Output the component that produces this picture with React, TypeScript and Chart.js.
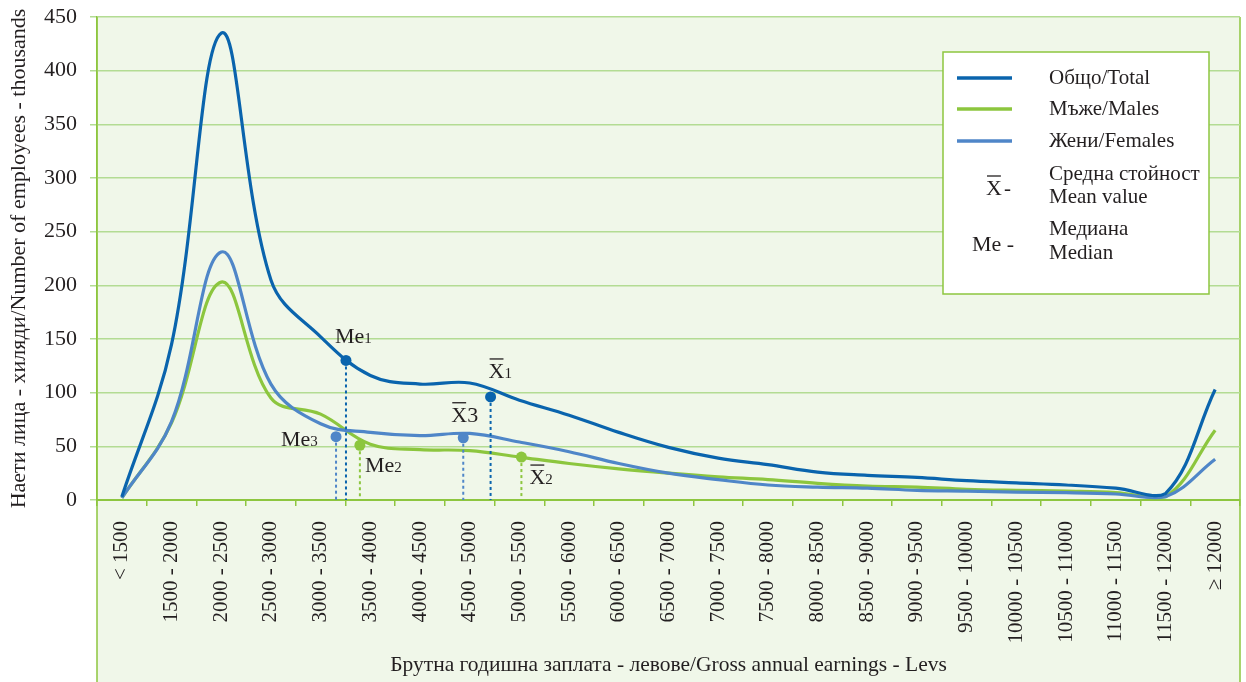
import React, { useEffect, useRef } from 'react';
import { Chart, registerables } from 'chart.js';

Chart.register(...registerables);

const categories = [
  '< 1500', '1500 - 2000', '2000 - 2500', '2500 - 3000', '3000 - 3500', '3500 - 4000',
  '4000 - 4500', '4500 - 5000', '5000 - 5500', '5500 - 6000', '6000 - 6500', '6500 - 7000',
  '7000 - 7500', '7500 - 8000', '8000 - 8500', '8500 - 9000', '9000 - 9500', '9500 - 10000',
  '10000 - 10500', '10500 - 11000', '11000 - 11500', '11500 - 12000', '≥ 12000',
];

const totalValues = [3, 145, 435, 205, 152, 116, 108, 109, 93, 79, 63, 49, 39, 33, 26, 23, 21, 18, 16, 14, 11, 6, 103];
const maleValues = [2, 72, 203, 95, 80, 52, 47, 46, 40, 34, 29, 25, 21.6, 19, 15.5, 13, 12, 10, 9, 8.3, 7, 3, 65];
const femaleValues = [2, 73, 231, 108, 71, 63, 60, 62, 54, 45, 34, 25, 19, 14, 12, 11, 9, 8.3, 7.4, 6.8, 5.6, 3, 38];

const yTicks = [0, 50, 100, 150, 200, 250, 300, 350, 400, 450];

// Mean / median markers (x in category index units)
const markerKind = ['Me', 'X', 'Me', 'X', 'Me', 'X'];
const markerSub = ['1', '1', '2', '2', '3', '3'];
const markerSeries = [0, 0, 1, 1, 2, 2];
const markerX = [4.51, 7.42, 4.79, 8.04, 4.31, 6.87];
const markerY = [130, 96, 51, 40, 59, 58];
const markerLabelDx = [-11, -2, 5, 8, -55, -12];
const markerLabelDy = [-17, -19, 27, 27, 9, -16];

const seriesColors = ['#0a64ad', '#8cc63e', '#4f86c8'];
const legendLabels = ['Общо/Total', 'Мъже/Males', 'Жени/Females'];

const TEXT = '#231f20';
const SERIF = '"Liberation Serif", "DejaVu Serif", serif';
const GRID = '#b3dc93';
const AXIS = '#8dc63f';
const BG = '#f0f7e9';

const framePlugin = {
  id: 'frame',
  beforeDraw(chart: any) {
    const { ctx, chartArea } = chart;
    const h = chart.height;
    ctx.save();
    ctx.fillStyle = BG;
    ctx.fillRect(chartArea.left, chartArea.top, chartArea.right - chartArea.left, h - chartArea.top);
    ctx.strokeStyle = AXIS;
    ctx.lineWidth = 1.5;
    ctx.beginPath();
    ctx.moveTo(chartArea.left, chartArea.top);
    ctx.lineTo(chartArea.left, h);
    ctx.moveTo(chartArea.right, chartArea.top);
    ctx.lineTo(chartArea.right, h);
    ctx.stroke();
    ctx.restore();
  },
};

function drawSymbol(ctx: any, kind: string, sub: string, x: number, y: number, big: boolean) {
  ctx.fillStyle = TEXT;
  ctx.textBaseline = 'alphabetic';
  ctx.textAlign = 'left';
  ctx.font = `22px ${SERIF}`;
  const main = kind === 'Me' ? 'Me' : 'X';
  ctx.fillText(main, x, y);
  const w = ctx.measureText(main).width;
  if (kind === 'X') {
    ctx.strokeStyle = TEXT;
    ctx.lineWidth = 1.3;
    ctx.beginPath();
    ctx.moveTo(x + 1, y - 19);
    ctx.lineTo(x + w - 1, y - 19);
    ctx.stroke();
  }
  if (sub) {
    ctx.font = big ? `22px ${SERIF}` : `15px ${SERIF}`;
    ctx.fillText(sub, x + w, y);
  }
}

const markerLabelPlugin = {
  id: 'markerLabels',
  afterDatasetsDraw(chart: any) {
    const { ctx } = chart;
    const xs = chart.scales.xm;
    const ys = chart.scales.y;
    ctx.save();
    for (let i = 0; i < markerX.length; i++) {
      const px = xs.getPixelForValue(markerX[i]);
      const py = ys.getPixelForValue(markerY[i]);
      const big = markerKind[i] === 'X' && markerSub[i] === '3';
      drawSymbol(ctx, markerKind[i], markerSub[i], px + markerLabelDx[i], py + markerLabelDy[i], big);
    }
    ctx.restore();
  },
};

const legendPlugin = {
  id: 'customLegend',
  afterDraw(chart: any) {
    const { ctx } = chart;
    ctx.save();
    const bx = 943, by = 52, bw = 266, bh = 242;
    ctx.fillStyle = '#ffffff';
    ctx.fillRect(bx, by, bw, bh);
    ctx.strokeStyle = AXIS;
    ctx.lineWidth = 1.5;
    ctx.strokeRect(bx, by, bw, bh);
    const rows = [78, 109, 141];
    for (let i = 0; i < 3; i++) {
      ctx.strokeStyle = seriesColors[i];
      ctx.lineWidth = 3.5;
      ctx.beginPath();
      ctx.moveTo(957, rows[i]);
      ctx.lineTo(1012, rows[i]);
      ctx.stroke();
      ctx.fillStyle = TEXT;
      ctx.font = `21px ${SERIF}`;
      ctx.textBaseline = 'middle';
      ctx.textAlign = 'left';
      ctx.fillText(legendLabels[i], 1049, rows[i]);
    }
    ctx.font = `21px ${SERIF}`;
    ctx.textBaseline = 'middle';
    ctx.fillText('Средна стойност', 1049, 174);
    ctx.fillText('Mean value', 1049, 197);
    ctx.fillText('Медиана', 1049, 229);
    ctx.fillText('Median', 1049, 253);
    // symbols
    drawSymbol(ctx, 'X', '', 986, 195, false);
    ctx.font = `21px ${SERIF}`;
    ctx.textBaseline = 'alphabetic';
    ctx.fillText('-', 1004, 195);
    ctx.font = `22px ${SERIF}`;
    ctx.fillText('Me -', 972, 251);
    ctx.restore();
  },
};

export default function App() {
  const canvasRef = useRef<HTMLCanvasElement | null>(null);

  useEffect(() => {
    if (!canvasRef.current) return;
    const lineDs = [
      { label: legendLabels[0], data: totalValues, color: seriesColors[0], order: 1 },
      { label: legendLabels[2], data: femaleValues, color: seriesColors[2], order: 2 },
      { label: legendLabels[1], data: maleValues, color: seriesColors[1], order: 3 },
    ].map((d) => ({
      type: 'line' as const,
      label: d.label,
      data: d.data,
      borderColor: d.color,
      backgroundColor: d.color,
      borderWidth: 3.2,
      pointRadius: 0,
      tension: 0.38,
      fill: false,
      order: d.order,
      xAxisID: 'x',
      yAxisID: 'y',
    }));

    const markerDs = markerX.map((mx, i) => ({
      type: 'line' as const,
      label: markerKind[i] + markerSub[i],
      data: [
        { x: mx, y: markerY[i] },
        { x: mx, y: 0 },
      ],
      borderColor: seriesColors[markerSeries[i]],
      backgroundColor: seriesColors[markerSeries[i]],
      borderWidth: 2,
      borderDash: [3, 3],
      pointRadius: [5.5, 0],
      pointBorderWidth: 0,
      tension: 0,
      order: 0,
      xAxisID: 'xm',
      yAxisID: 'y',
    }));

    const chart = new Chart(canvasRef.current, {
      type: 'line',
      data: {
        labels: categories,
        datasets: [...markerDs, ...lineDs] as any,
      },
      options: {
        animation: false,
        responsive: false,
        maintainAspectRatio: false,
        layout: { padding: { top: 17, right: 6, bottom: 0, left: 0 } },
        plugins: {
          legend: { display: false },
          tooltip: { enabled: false },
        },
        scales: {
          x: {
            type: 'category',
            offset: true,
            grid: {
              drawOnChartArea: false,
              offset: true,
              tickLength: 6,
              color: AXIS,
              lineWidth: 1.5,
            },
            border: { color: AXIS, width: 2 },
            ticks: {
              autoSkip: false,
              minRotation: 90,
              maxRotation: 90,
              padding: 15,
              color: TEXT,
              font: { family: SERIF, size: 21 },
            },
            title: {
              display: true,
              text: 'Брутна годишна заплата - левове/Gross annual earnings - Levs',
              color: TEXT,
              font: { family: SERIF, size: 21.5 },
              padding: { top: 4, bottom: 4 },
            },
            afterFit(scale: any) {
              scale.height = 182;
              scale.paddingLeft = 0;
              scale.paddingRight = 0;
            },
          },
          xm: {
            type: 'linear',
            display: false,
            min: -0.5,
            max: 22.5,
          },
          y: {
            type: 'linear',
            min: 0,
            max: 450,
            afterBuildTicks(scale: any) {
              scale.ticks = yTicks.map((v) => ({ value: v }));
            },
            grid: {
              color: GRID,
              lineWidth: 1.5,
              tickLength: 7,
            },
            border: { color: AXIS, width: 1.5 },
            ticks: {
              padding: 13,
              color: TEXT,
              font: { family: SERIF, size: 22 },
            },
            title: {
              display: true,
              text: 'Наети лица - хиляди/Number of employees - thousands',
              color: TEXT,
              font: { family: SERIF, size: 22 },
              padding: { top: 6, bottom: 4 },
            },
            afterFit(scale: any) {
              scale.width = 97;
              scale.paddingTop = 0;
              scale.paddingBottom = 0;
            },
          },
        },
      },
      plugins: [framePlugin, markerLabelPlugin, legendPlugin],
    });
    return () => chart.destroy();
  }, []);

  return (
    <div style={{ position: 'fixed', left: 0, top: 0, width: 1246, height: 682, background: '#ffffff' }}>
      <canvas ref={canvasRef} width={1246} height={682} style={{ width: 1246, height: 682, display: 'block' }} />
    </div>
  );
}
